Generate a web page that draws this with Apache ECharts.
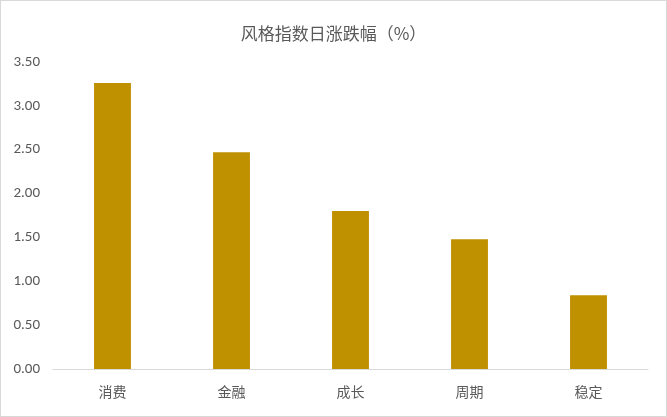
<!DOCTYPE html>
<html>
<head>
<meta charset="utf-8">
<script src="https://cdn.jsdelivr.net/npm/echarts@6/dist/echarts.min.js"></script>
<style>
  html, body { margin: 0; padding: 0; background: #fff; }
  #chart { width: 665px; height: 415px; border: 1px solid #d9d9d9; }
</style>
</head>
<body>
<div id="chart"></div>
<script>
var categories = ['消费', '金融', '成长', '周期', '稳定'];
var values = [3.26, 2.47, 1.80, 1.48, 0.84];
var titleText = '风格指数日涨跌幅（%）';

var chart = echarts.init(document.getElementById('chart'));
chart.setOption({
    animation: false,
    title: {
        text: titleText,
        left: 'center',
        top: 19,
        textStyle: {
            fontFamily: 'Noto Sans CJK SC',
            fontSize: 17,
            fontWeight: 'normal',
            color: '#595959'
        }
    },
    grid: { left: 52, right: 18, top: 61, bottom: 47 },
    xAxis: {
        type: 'category',
        data: categories,
        axisLine: { lineStyle: { color: '#d9d9d9', width: 1 } },
        axisTick: { show: false },
        axisLabel: {
            margin: 16,
            fontFamily: 'Noto Sans CJK SC',
            fontSize: 14,
            color: '#595959'
        }
    },
    yAxis: {
        type: 'value',
        min: 0,
        max: 3.5,
        interval: 0.5,
        splitLine: { show: false },
        axisLine: { show: false },
        axisTick: { show: false },
        axisLabel: {
            margin: 13,
            fontFamily: 'Carlito, Liberation Sans, sans-serif',
            fontSize: 15,
            color: '#595959',
            formatter: function(v){ return v.toFixed(2); }
        }
    },
    series: [{
        type: 'bar',
        data: values,
        barWidth: '31%',
        itemStyle: { color: '#bf9000' }
    }]
});
</script>
</body>
</html>
